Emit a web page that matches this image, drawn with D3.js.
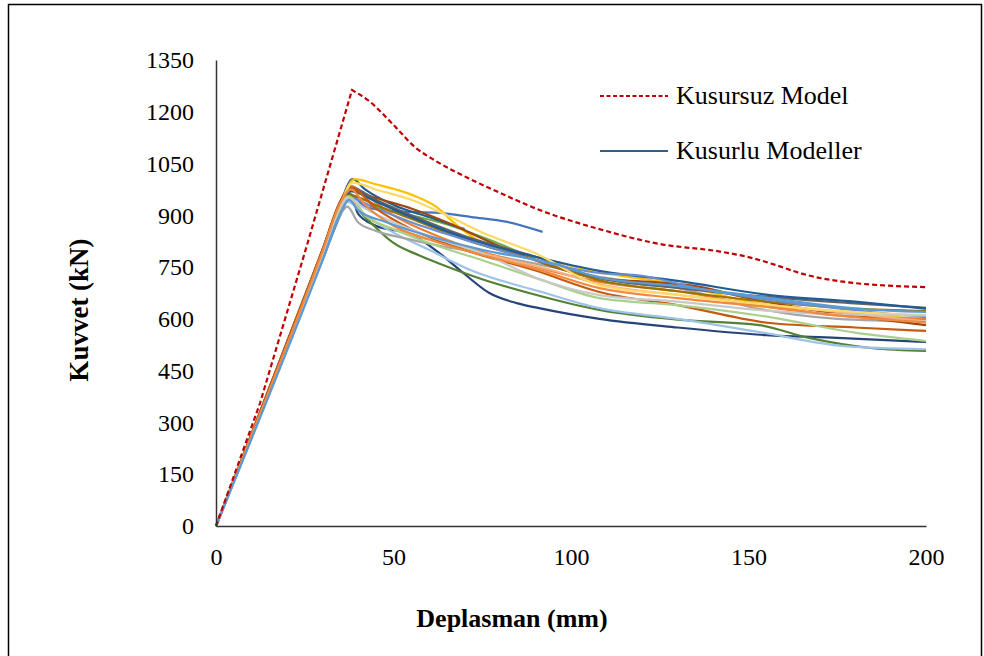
<!DOCTYPE html>
<html>
<head>
<meta charset="utf-8">
<script src="https://cdn.jsdelivr.net/npm/d3@7"></script>
<style>
  body { margin: 0; background: #fff; }
  text { font-family: "Liberation Serif", "Times New Roman", serif; fill: #000; }
</style>
</head>
<body>
<div id="chart"></div>
<script>
const margin = { top: 60, right: 58, bottom: 130, left: 216 };
const W = 984, H = 656;
const width = 926 - margin.left;
const height = 526 - margin.top;

// axis ticks
const xTicks = [0, 50, 100, 150, 200];
const yTicks = [0, 150, 300, 450, 600, 750, 900, 1050, 1200, 1350];

// Kusursuz Model (mm, kN)
const perfectModel = [[0,0],[12.4,356],[25.5,809],[38.3,1263],[43,1232],[50,1162],[56,1098],[62,1057],[71,1008],[80,965],[91,916],[108,860],[125,817],[142,795],[150,779],[158,755],[165,731],[178,706],[200,692]];

// Kusurlu Modeller colours
const flawColors = ["#264478","#548235","#9DC3E6","#70AD47","#4472C4","#255E91","#FFC000","#A5A5A5","#ED7D31","#9E480E",
  "#636363","#997300","#1F5C99","#698ED0","#F4B183","#C55A11","#A9D18E","#FFD966","#C9C9C9","#F08A3E","#5B9BD5"];

// Kusurlu Modeller (mm, kN)
const flawModels = [
  [[0,0],[30,790],[35,920],[38,955],[40,905],[45,870],[55,845],[63,790],[70,730],[77,675],[85,645],[91,631],[108,600],[130,575],[155,553],[175,545],[200,533]],
  [[0,0],[30,780],[35,915],[37.5,965],[40,920],[45,865],[50,820],[57,785],[63,760],[75,715],[90,670],[108,626],[131,597],[153,582],[167,545],[185,515],[200,507]],
  [[0,0],[30,785],[35,910],[37,940],[42,900],[50,850],[60,800],[72,740],[91,680],[108,631],[130,600],[153,562],[177,521],[200,512]],
  [[0,0],[30,790],[35,925],[38,985],[45,925],[55,900],[63,880],[77,829],[91,768]],
  [[0,0],[30,770],[35,900],[38,960],[42,925],[50,912],[63,907],[72,895],[82,881],[92,852]],
  [[0,0],[30,800],[35,935],[38.5,1005],[42,975],[50,930],[60,895],[70,860]],
  [[0,0],[30,790],[35,930],[39,1005],[45,990],[55,960],[62,925],[68,870],[75,820],[90,780],[108,735],[130,700],[150,650],[175,620],[200,600]],
  [[0,0],[30,770],[35.5,910],[37,925],[40,880],[45,855],[53,834],[63,812],[75,790],[90,760],[108,722],[130,690],[153,629],[175,600],[200,592]],
  [[0,0],[30,800],[35,940],[38,985],[42,960],[50,900],[60,850],[70,810],[85,765],[108,707],[130,680],[156,634],[175,610],[200,600]],
  [[0,0],[30,800],[35,940],[37.5,975],[45,950],[55,920],[65,880],[80,810],[108,718],[125,705],[135,695],[150,660],[175,615],[200,582]],
  [[0,0],[30,795],[35,935],[38,980],[45,945],[55,900],[70,840],[90,780],[108,718],[130,690],[156,663],[180,645],[200,632]],
  [[0,0],[30,795],[35,930],[37,960],[45,930],[55,890],[70,830],[90,770],[108,712],[130,680],[156,649],[180,630],[200,623]],
  [[0,0],[30,790],[35,930],[38,970],[45,940],[55,895],[70,835],[90,780],[108,739],[130,710],[156,669],[180,650],[200,630]],
  [[0,0],[30,780],[35,915],[38,950],[44,925],[55,880],[70,830],[90,770],[108,733],[120,725],[135,690],[156,655],[180,625],[200,605]],
  [[0,0],[30,790],[35,920],[37,955],[42,900],[50,860],[60,830],[75,790],[95,740],[108,700],[130,670],[156,640],[180,615],[200,592]],
  [[0,0],[30,800],[35,935],[38,980],[45,920],[55,860],[70,800],[90,740],[108,678],[130,640],[156,588],[180,575],[200,565]],
  [[0,0],[30,785],[35,920],[37.5,955],[42,900],[50,860],[60,820],[75,770],[91,715],[108,660],[130,640],[156,605],[180,560],[200,536]],
  [[0,0],[30,790],[35,930],[38.5,995],[45,975],[55,945],[65,900],[75,850],[90,790],[108,698],[130,670],[156,640],[180,620],[200,612]],
  [[0,0],[30,785],[35,925],[37,950],[42,920],[50,880],[60,840],[75,790],[90,720],[108,669],[130,650],[156,623],[180,612],[200,610]],
  [[0,0],[30,795],[35,935],[38,975],[42,930],[50,870],[60,830],[75,785],[90,745],[108,689],[130,660],[156,634],[180,605],[200,590]],
  [[0,0],[30,770],[35,905],[37.5,945],[40,915],[48,880],[60,840],[75,800],[95,760],[108,720],[130,695],[156,660],[180,630],[200,620]]
];

const legendItems = ["Kusursuz Model", "Kusurlu Modeller"];

const svgRoot = d3.select("#chart")
  .append("svg")
  .attr("width", W)
  .attr("height", H);

// outer frame
svgRoot.append("rect")
  .attr("x", 8.5).attr("y", 4.5)
  .attr("width", 973).attr("height", 670)
  .attr("fill", "none")
  .attr("stroke", "#000")
  .attr("stroke-width", 1.5);

const svg = svgRoot.append("g")
  .attr("transform", `translate(${margin.left},${margin.top})`);

const x = d3.scaleLinear().domain([0, 200]).range([0, width]);
const y = d3.scaleLinear().domain([0, 1350]).range([height, 0]);

const line = d3.line()
  .x(d => x(d[0]))
  .y(d => y(d[1]))
  .curve(d3.curveMonotoneX);

const straight = d3.line()
  .x(d => x(d[0]))
  .y(d => y(d[1]));

// flawed models
svg.selectAll(".flaw")
  .data(flawModels)
  .enter()
  .append("path")
  .attr("class", "flaw")
  .attr("d", line)
  .attr("fill", "none")
  .attr("stroke", (d, i) => flawColors[i % flawColors.length])
  .attr("stroke-width", 2.2);

// perfect model: straight rise, smooth softening branch
const peakIdx = perfectModel.findIndex(d => d[1] === d3.max(perfectModel, p => p[1]));
const redPath = straight(perfectModel.slice(0, peakIdx + 1)) +
  line(perfectModel.slice(peakIdx)).replace(/^M/, "L");
svg.append("path")
  .attr("d", redPath)
  .attr("fill", "none")
  .attr("stroke", "#C00000")
  .attr("stroke-width", 2.2)
  .attr("stroke-dasharray", "5,3");

// axes
const xAxis = svg.append("g")
  .attr("transform", `translate(0,${height})`)
  .call(d3.axisBottom(x).tickValues(xTicks).tickSize(0).tickPadding(22).tickFormat(d3.format("d")));
const yAxis = svg.append("g")
  .call(d3.axisLeft(y).tickValues(yTicks).tickSize(0).tickPadding(22).tickFormat(d3.format("d")));

[xAxis, yAxis].forEach(a => {
  a.select(".domain").attr("stroke", "#333").attr("stroke-width", 1.5);
  a.selectAll("text").attr("font-size", 24).attr("font-family", "Liberation Serif").attr("fill", "#000");
});

// axis titles
svgRoot.append("text")
  .attr("x", 512)
  .attr("y", 627)
  .attr("text-anchor", "middle")
  .attr("font-size", 26)
  .attr("font-weight", "bold")
  .text("Deplasman (mm)");

svgRoot.append("text")
  .attr("transform", "translate(88,310) rotate(-90)")
  .attr("text-anchor", "middle")
  .attr("font-size", 27)
  .attr("font-weight", "bold")
  .text("Kuvvet (kN)");

// legend
const legend = svgRoot.append("g");
legendItems.forEach((name, i) => {
  const ly = 96 + i * 55;
  legend.append("line")
    .attr("x1", 600).attr("x2", 668)
    .attr("y1", ly).attr("y2", ly)
    .attr("stroke", i === 0 ? "#C00000" : "#2F5F8F")
    .attr("stroke-width", i === 0 ? 2 : 2.2)
    .attr("stroke-dasharray", i === 0 ? "4,2.5" : null);
  legend.append("text")
    .attr("x", 676)
    .attr("y", ly + 8)
    .attr("font-size", 26)
    .text(name);
});
</script>
</body>
</html>
